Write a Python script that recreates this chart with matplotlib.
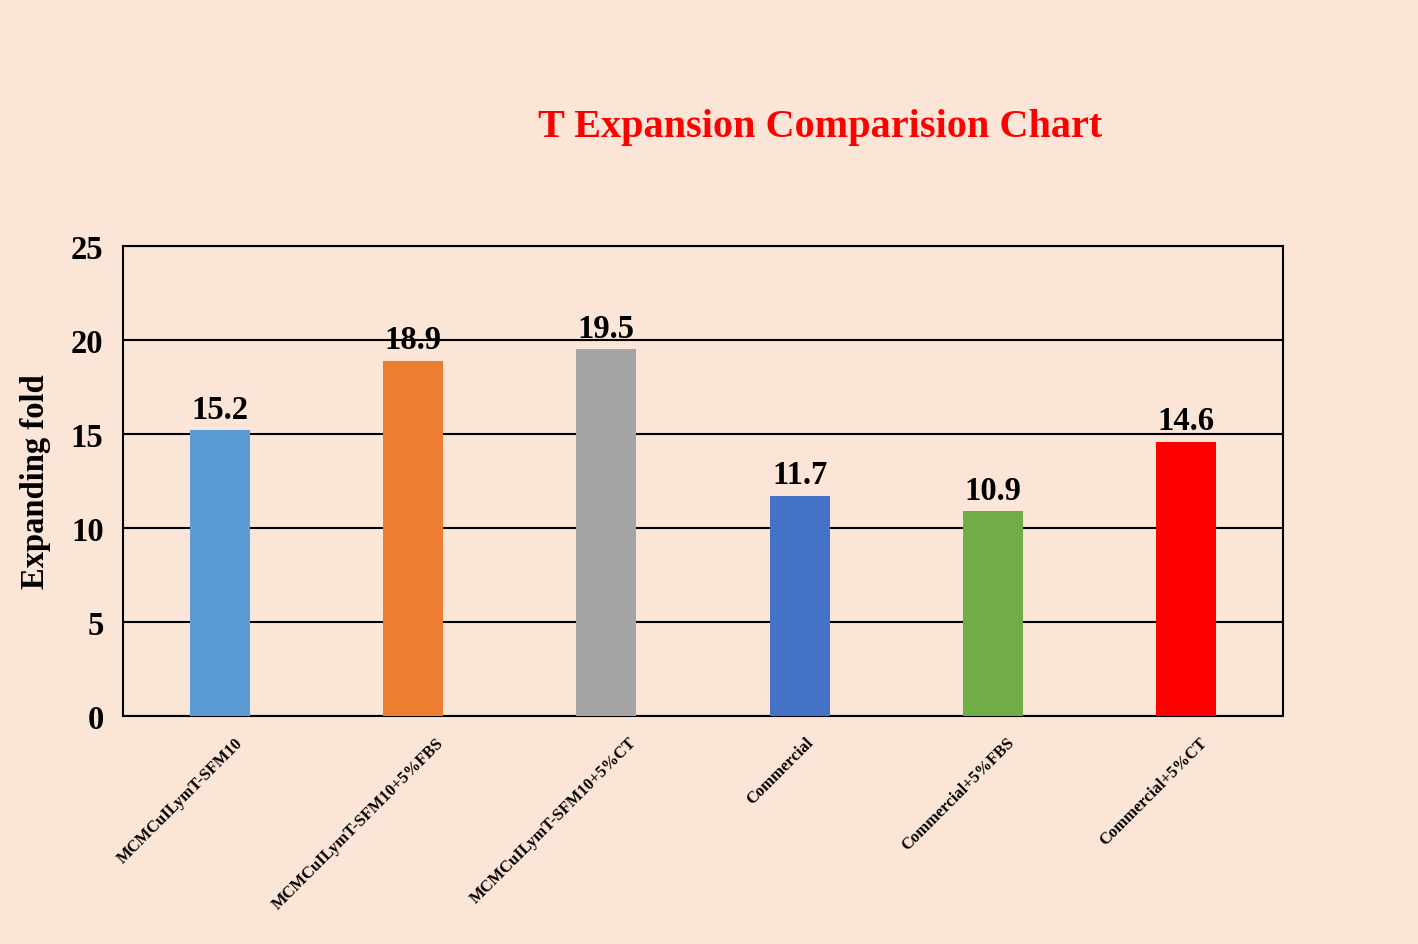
import numpy as np
import matplotlib.pyplot as plt
import matplotlib.transforms as mtransforms

categories = ["MCMCuILymT-SFM10", "MCMCuILymT-SFM10+5%FBS", "MCMCuILymT-SFM10+5%CT",
              "Commercial", "Commercial+5%FBS", "Commercial+5%CT"]
values = [15.2, 18.9, 19.5, 11.7, 10.9, 14.6]
bar_colors = ["#5B9BD5", "#ED7D31", "#A5A5A5", "#4472C4", "#70AD47", "#FF0000"]
y_ticks = [0, 5, 10, 15, 20, 25]

bg = "#FBE5D6"
plt.rcParams['font.family'] = ['Liberation Serif', 'DejaVu Serif']
plt.rcParams['font.weight'] = 'bold'

fig = plt.figure(figsize=(14.18, 9.45), dpi=100, facecolor=bg)
ax = fig.add_axes([123 / 1418, 1 - 717 / 945, 1160 / 1418, 470 / 945])
ax.set_facecolor(bg)

x = np.arange(len(categories))
bars = ax.bar(x, values, width=0.31, color=bar_colors, zorder=3)

for b, v in zip(bars, values):
    ax.annotate(f"{v}", (b.get_x() + b.get_width() / 2, v), xytext=(0, 4),
                textcoords='offset points', ha='center', va='bottom',
                fontsize=23.5, fontweight='bold')

ax.set_xlim(-0.5, len(categories) - 0.5)
ax.set_ylim(0, 25)
ax.set_yticks(y_ticks)
ax.yaxis.grid(True, color='black', linewidth=1.5, zorder=0)
ax.set_axisbelow(True)
ax.tick_params(axis='both', length=0)
ax.tick_params(axis='y', labelsize=23.5, pad=14)
ax.set_xticks(x)
ax.set_xticklabels(categories, rotation=45, ha='right', rotation_mode='anchor',
                   fontsize=12, fontweight='bold')
ax.tick_params(axis='x', pad=13)
for s in ax.spines.values():
    s.set_color('black')
    s.set_linewidth(1.5)

ax.set_ylabel("Expanding fold", fontsize=23.5, fontweight='bold', labelpad=14)

fig.text(820 / 1418, 1 - 127 / 945, "T Expansion Comparision Chart", color='#FF0000',
         fontsize=29, fontweight='bold', ha='center', va='center')

# Excel pushes longer slanted labels further right of the tick
fig.canvas.draw()
renderer = fig.canvas.get_renderer()
for lab in ax.get_xticklabels():
    w = lab.get_window_extent(renderer).width
    dx = 0.17 * w - 7
    lab.set_transform(lab.get_transform() +
                      mtransforms.ScaledTranslation(dx / 100, 0, fig.dpi_scale_trans))

plt.savefig("out.png", dpi=100, facecolor=bg)
